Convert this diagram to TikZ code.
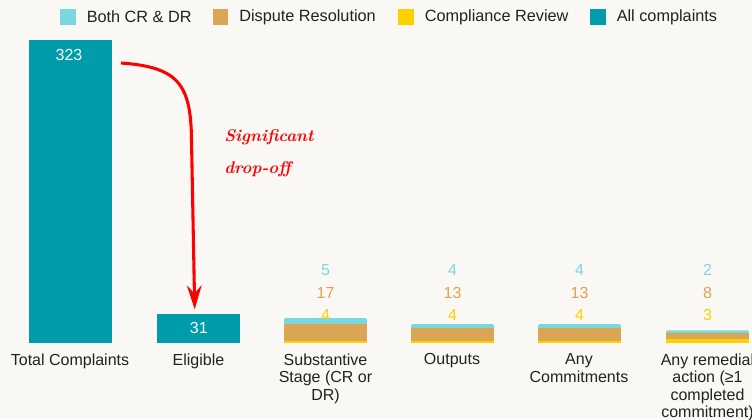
\documentclass[tikz,border=0pt]{standalone}
\usepackage{fontspec}
\newfontfamily\chartfont{Liberation Sans}
\usepackage{tikz}
\usetikzlibrary{arrows.meta}

\definecolor{paperbg}{HTML}{FAF8F5}
\definecolor{allteal}{HTML}{009CAB}
\definecolor{bothcyan}{HTML}{79D8DE}
\definecolor{disputeorange}{HTML}{DAA555}
\definecolor{complyellow}{HTML}{FFD000}
\definecolor{labelgray}{HTML}{222222}
\definecolor{dropred}{HTML}{FF0000}

\tikzset{
    keytext/.style={anchor=west, inner sep=0pt, text=labelgray, font=\chartfont\fontsize{12.2}{13}\selectfont},
    catlabel/.style={anchor=north, align=center, inner sep=0pt, text=labelgray, font=\chartfont\fontsize{12}{13.1}\selectfont},
    valtext/.style={inner sep=0pt, font=\chartfont\fontsize{12}{14}\selectfont},
    tealbar/.style={fill=allteal, inner sep=0pt, anchor=south west, text=white, font=\chartfont\fontsize{12}{14}\selectfont},
    dropline/.style={dropred, line width=2.3pt, -{Stealth[length=18pt, width=11pt, inset=6pt]}}
}

\begin{document}
\begin{tikzpicture}[x=0.75pt, y=-0.75pt]
    % Canvas
    \useasboundingbox (0,0) rectangle (752,419);
    \fill[paperbg] (0,0) rectangle (752,419);

    % Legend
    \foreach \kx/\col/\txt in {60/bothcyan/Both CR \& DR, 212.5/disputeorange/Dispute Resolution,
                               398/complyellow/Compliance Review, 590/allteal/All complaints}{
        \fill[\col] (\kx,9) rectangle (\kx+15.5,25);
        \node[keytext] at (\kx+26.5,17) {\txt};
    }

    % Single bars
    \node[tealbar, minimum width=61.9pt, minimum height=227.3pt] (total) at (29,343) {};
    \node[text=white, font=\chartfont\fontsize{12}{14}\selectfont] at (69,55) {323};
    \node[tealbar, minimum width=62.3pt, minimum height=21.8pt] (elig) at (157,343) {31};

    % Stacked bars: left, cyan top, orange top, yellow top, values
    \foreach \bx/\ct/\ot/\yt/\nc/\no/\ny in {284/318/324/340.7/5/17/4, 411/324/327.7/340.7/4/13/4,
                                           538/324/327.7/340.7/4/13/4, 666/330.3/333.3/339/2/8/3}{
        \fill[bothcyan, rounded corners=1.2pt] (\bx,\ot+2) rectangle (\bx+83,\ct);
        \fill[disputeorange] (\bx,\yt) rectangle (\bx+83,\ot);
        \fill[complyellow] (\bx,343) rectangle (\bx+83,\yt);
        \node[valtext, text=bothcyan] at (\bx+41.5,270) {\nc};
        \node[valtext, text=disputeorange] at (\bx+41.5,292.5) {\no};
        \node[valtext, text=complyellow] at (\bx+41.5,315) {\ny};
    }

    % Category labels (the last one runs off the right edge, as in the chart)
    \node[catlabel] (lab1) at (70,353.5) {Total Complaints};
    \node[catlabel] (lab2) at (198.5,353.5) {Eligible};
    \node[catlabel] (lab3) at (325.5,353.5) {Substantive\\Stage (CR or\\DR)};
    \node[catlabel] (lab4) at (452,353.5) {Outputs};
    \node[catlabel] (lab5) at (579,353.5) {Any\\Commitments};
    \node[catlabel] (lab6) at (707.5,353.5) {Any remedial\\action (≥1\\completed\\commitment)};

    % Drop-off annotation
    \coordinate (dropstart) at (121,63);
    \draw[dropline, shorten >=3pt] (dropstart) .. controls (178,67) and (191,84) .. (191.5,140)
        -- ([xshift=-3pt]elig.north);
    \node[anchor=north west, align=left, inner sep=0pt, text=dropred,
          font=\bfseries\itshape\fontsize{12.6}{24}\selectfont] (droptext) at (224,129) {Significant\\drop-off};
\end{tikzpicture}
\end{document}
